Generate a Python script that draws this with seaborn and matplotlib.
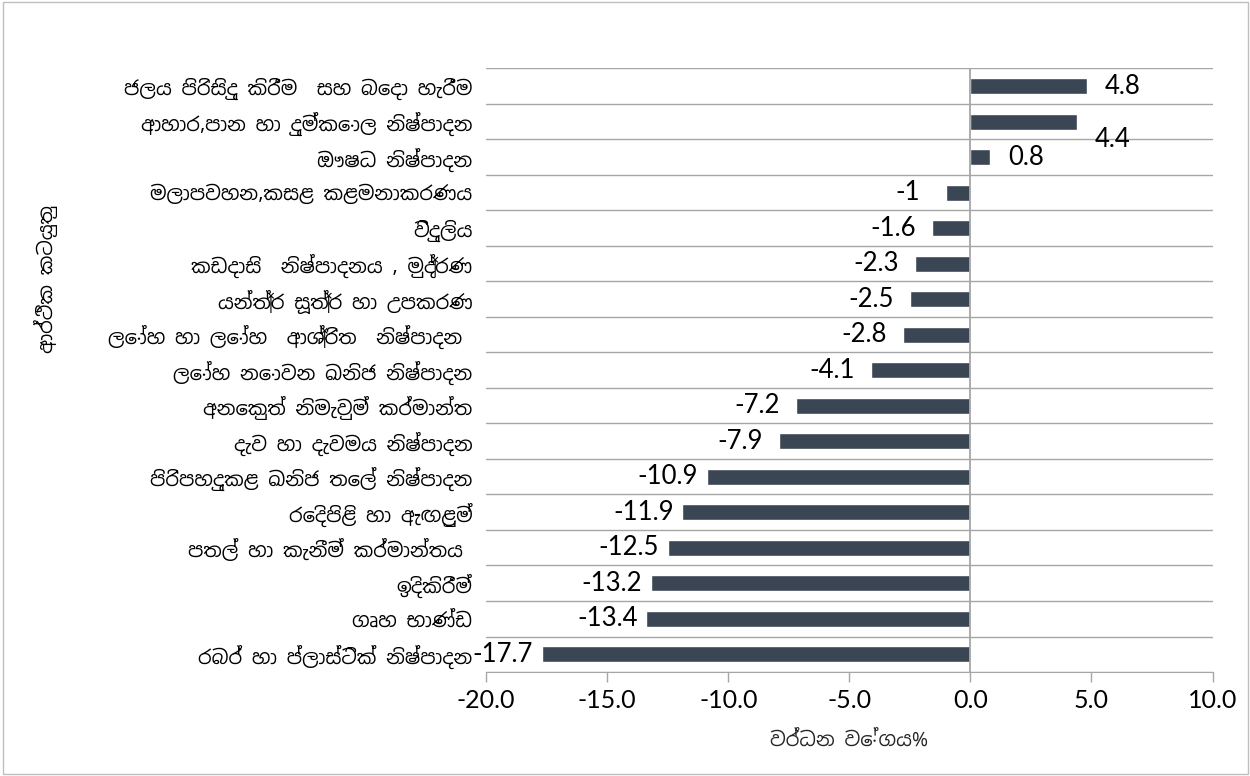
import numpy as np
import pandas as pd
import matplotlib
matplotlib.use('Agg')
import matplotlib.pyplot as plt
from matplotlib import font_manager
from matplotlib.patches import Rectangle
import seaborn as sns


# chart data (top to bottom)
sectors = [
    'ජලය පිරිසිදු කිරීම  සහ බෙදා හැරීම',
    'ආහාර,පාන හා දුම්කොල නිෂ්පාදන',
    'ඖෂධ නිෂ්පාදන',
    'මලාපවහන,කසළ කළමනාකරණය',
    'විදුලිය',
    'කඩදාසි  නිෂ්පාදනය , මුද්‍රණ',
    'යන්ත්‍ර සූත්‍ර හා උපකරණ',
    'ලෝහ හා ලෝහ  ආශ්‍රිත  නිෂ්පාදන ',
    'ලෝහ නොවන ඛනිජ නිෂ්පාදන',
    'අනෙකුත් නිමැවුම් කර්මාන්ත',
    'දැව හා දැවමය නිෂ්පාදන',
    'පිරිපහදුකළ ඛනිජ තෙල් නිෂ්පාදන',
    'රෙදිපිළි හා ඇඟළුම්',
    'පතල් හා කැනීම් කර්මාන්තය ',
    'ඉදිකිරීම්',
    'ගෘහ භාණ්ඩ',
    'රබර් හා ප්ලාස්ටික් නිෂ්පාදන',
]
growth = [4.8, 4.4, 0.8, -1, -1.6, -2.3, -2.5, -2.8, -4.1, -7.2, -7.9,
          -10.9, -11.9, -12.5, -13.2, -13.4, -17.7]
x_ticks = [-20.0, -15.0, -10.0, -5.0, 0.0, 5.0, 10.0]
x_title = 'වර්ධන වේගය%'
y_title = 'ආර්ථික කටයුතු'

df = pd.DataFrame({'sector': sectors, 'growth': growth})

sns.set_style('white')

# look for a font that can draw Sinhala, fall back to DejaVu
fams = []
for f in font_manager.fontManager.ttflist:
    if any(k in f.name for k in ['Sinhala', 'Nirmala', 'Iskoola']):
        if f.name not in fams:
            fams.append(f.name)
fams = fams + ['DejaVu Sans']
plt.rcParams['font.family'] = fams
plt.rcParams['text.color'] = 'black'

num_font = ['Lato', 'DejaVu Sans']

fig = plt.figure(figsize=(12.5, 7.76), dpi=100)
ax = fig.add_axes([0.389, 0.134, 0.581, 0.778])

sns.barplot(data=df, x='growth', y='sector', orient='h', color='#3b4654',
            width=0.45, ax=ax, saturation=1)

ax.set_xlim(-20, 10)
ax.set_ylim(len(sectors) - 0.5, -0.5)
ax.set_xticks(x_ticks)
ax.set_xticklabels(['%.1f' % t for t in x_ticks], fontsize=18, family=num_font,
                   color='black')
ax.tick_params(axis='x', bottom=True, length=7, width=1, pad=5, direction='out',
               color='#a6a6a6')
ax.tick_params(axis='y', length=0, pad=10, labelsize=14, labelcolor='black')

# lines between categories
ax.set_yticks(np.arange(-0.5, len(sectors)), minor=True)
ax.tick_params(axis='y', which='minor', length=0)
ax.grid(which='minor', axis='y', color='#a6a6a6', linewidth=1)
ax.grid(which='major', visible=False)
for s in ['left', 'right', 'top']:
    ax.spines[s].set_visible(False)
ax.spines['bottom'].set_color('#a6a6a6')
ax.axvline(0, color='#a6a6a6', linewidth=1.3)

# value labels
for i, v in enumerate(growth):
    if v >= 0:
        dy = -13 if i == 1 else 0
        ax.annotate(str(v), (v, i), xytext=(26, dy), textcoords='offset points',
                    ha='center', va='center', fontsize=18.5, family=num_font,
                    color='black')
    else:
        ax.annotate(str(v), (v, i), xytext=(-28, 0), textcoords='offset points',
                    ha='center', va='center', fontsize=18.5, family=num_font,
                    color='black')

ax.set_xlabel(x_title, fontsize=14, fontweight='bold', labelpad=14)
ax.set_ylabel('')
fig.text(0.037, 0.64, y_title, rotation=90, ha='center', va='center',
         fontsize=14, fontweight='bold')

# outer frame
fig.patches.append(Rectangle((0.002, 0.002), 0.996, 0.996, transform=fig.transFigure,
                             fill=False, edgecolor='#bfbfbf', linewidth=1))

fig.savefig('out.png', dpi=100)
